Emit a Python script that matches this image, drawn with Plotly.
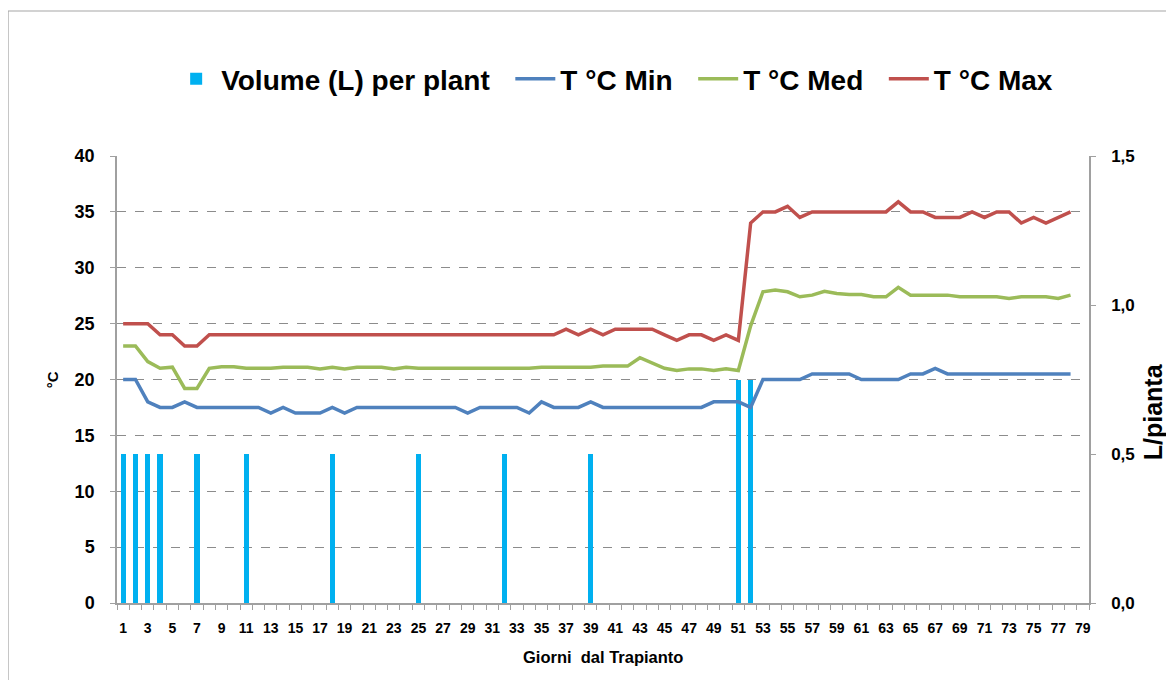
import plotly.graph_objects as go

days = list(range(1, 79))
t_min = [20, 20, 18, 17.5, 17.5, 18, 17.5, 17.5, 17.5, 17.5,
         17.5, 17.5, 17, 17.5, 17, 17, 17, 17.5, 17, 17.5,
         17.5, 17.5, 17.5, 17.5, 17.5, 17.5, 17.5, 17.5, 17, 17.5,
         17.5, 17.5, 17.5, 17, 18, 17.5, 17.5, 17.5, 18, 17.5,
         17.5, 17.5, 17.5, 17.5, 17.5, 17.5, 17.5, 17.5, 18, 18,
         18, 17.5, 20, 20, 20, 20, 20.5, 20.5, 20.5, 20.5,
         20, 20, 20, 20, 20.5, 20.5, 21, 20.5, 20.5, 20.5,
         20.5, 20.5, 20.5, 20.5, 20.5, 20.5, 20.5, 20.5]
t_med = [23, 23, 21.6, 21, 21.1, 19.2, 19.2, 21, 21.15, 21.15,
         21, 21, 21, 21.1, 21.1, 21.1, 20.95, 21.1, 20.95, 21.1,
         21.1, 21.1, 20.95, 21.1, 21, 21, 21, 21, 21, 21,
         21, 21, 21, 21, 21.1, 21.1, 21.1, 21.1, 21.1, 21.2,
         21.2, 21.2, 21.95, 21.45, 21, 20.8, 20.95, 20.95, 20.8, 20.95,
         20.8, 24.8, 27.85, 28, 27.85, 27.4, 27.55, 27.9, 27.7, 27.6,
         27.6, 27.4, 27.4, 28.25, 27.55, 27.55, 27.55, 27.55, 27.4, 27.4,
         27.4, 27.4, 27.25, 27.4, 27.4, 27.4, 27.25, 27.55]
t_max = [25, 25, 25, 24, 24, 23, 23, 24, 24, 24,
         24, 24, 24, 24, 24, 24, 24, 24, 24, 24,
         24, 24, 24, 24, 24, 24, 24, 24, 24, 24,
         24, 24, 24, 24, 24, 24, 24.5, 24, 24.5, 24,
         24.5, 24.5, 24.5, 24.5, 24, 23.5, 24, 24, 23.5, 24,
         23.5, 34, 35, 35, 35.5, 34.5, 35, 35, 35, 35,
         35, 35, 35, 35.9, 35, 35, 34.5, 34.5, 34.5, 35,
         34.5, 35, 35, 34, 34.5, 34, 34.5, 35]
irr_days = [1, 2, 3, 4, 7, 11, 18, 25, 32, 39, 51, 52]
irr_volume = [0.5, 0.5, 0.5, 0.5, 0.5, 0.5, 0.5, 0.5, 0.5, 0.5, 0.75, 0.75]

x_labels = list(range(1, 80, 2))
temp_ticks = list(range(0, 41, 5))
vol_ticks = [0, 0.5, 1.0, 1.5]
vol_tick_text = ["0,0", "0,5", "1,0", "1,5"]

FONT = "Liberation Sans"
GRID = "#8c8c8c"
AXIS = "#a0a0a0"
PAD = "\u00a0\u00a0"

fig = go.Figure()
fig.add_trace(go.Bar(x=irr_days, y=irr_volume, name="Volume (L) per plant" + PAD,
                     marker=dict(color="#00B0F0", line=dict(width=0)),
                     width=0.42, yaxis="y"))
fig.add_trace(go.Scatter(x=days, y=t_min, name="T °C Min" + PAD, mode="lines",
                         line=dict(color="#4F81BD", width=3.5), yaxis="y2"))
fig.add_trace(go.Scatter(x=days, y=t_med, name="T °C Med" + PAD, mode="lines",
                         line=dict(color="#9BBB59", width=3.5), yaxis="y2"))
fig.add_trace(go.Scatter(x=days, y=t_max, name="T °C Max", mode="lines",
                         line=dict(color="#C0504D", width=3.5), yaxis="y2"))

fig.update_layout(
    width=1174, height=680,
    margin=dict(l=109, r=93, t=148, b=85),
    paper_bgcolor="white", plot_bgcolor="white",
    font=dict(family=FONT, color="black"),
    showlegend=True,
    legend=dict(orientation="h", x=0.512, xanchor="center", y=1.172, yanchor="middle",
                font=dict(size=28, family=FONT, weight="bold"),
                itemwidth=40, tracegroupgap=0, bgcolor="rgba(0,0,0,0)"),
    bargap=0,
    xaxis=dict(range=[0.5, 79.5], tickmode="array", tickvals=x_labels,
               ticktext=[str(v) for v in x_labels], ticks="", ticklen=0,
               tickfont=dict(size=14, family=FONT, weight="bold"),
               showline=True, linecolor=AXIS, linewidth=1.5, showgrid=False, zeroline=False,
               minor=dict(ticks="outside", ticklen=5, tickcolor=AXIS, tickwidth=1.2,
                          tickvals=[v + 0.5 for v in range(0, 80)], showgrid=False),
               ticklabelstandoff=11),
    yaxis=dict(range=[0, 1.5], side="right", tickmode="array", tickvals=vol_ticks,
               ticktext=vol_tick_text, ticks="outside", ticklen=5, tickcolor=AXIS,
               tickfont=dict(size=17, family=FONT, weight="bold"),
               showline=True, linecolor=AXIS, linewidth=1.5, showgrid=False, zeroline=False,
               ticklabelstandoff=12),
    yaxis2=dict(range=[0, 40], side="left", overlaying="y", tickmode="array",
                tickvals=temp_ticks, ticks="outside", ticklen=5, tickcolor=AXIS,
                tickfont=dict(size=18, family=FONT, weight="bold"),
                showline=True, linecolor=AXIS, linewidth=1.5,
                showgrid=True, gridcolor=GRID, griddash="dash", gridwidth=1.2,
                zeroline=False, ticklabelstandoff=12),
    annotations=[
        dict(text="Giorni  dal Trapianto", x=0.5, y=-0.12, xref="paper", yref="paper",
             xanchor="center", yanchor="middle", showarrow=False,
             font=dict(size=16.5, family=FONT, weight="bold")),
        dict(text="°C", x=-0.066, y=0.5, xref="paper", yref="paper", textangle=-90,
             xanchor="center", yanchor="middle", showarrow=False,
             font=dict(size=15, family=FONT, weight="bold")),
        dict(text="L/pianta", x=1.066, y=0.427, xref="paper", yref="paper", textangle=-90,
             xanchor="center", yanchor="middle", showarrow=False,
             font=dict(size=25, family=FONT, weight="bold")),
    ],
    shapes=[dict(type="rect", xref="paper", yref="paper", x0=-0.1121, x1=1.3,
                 y0=-0.4, y1=1.3244, line=dict(color="#a6a6a6", width=1.2),
                 fillcolor="rgba(0,0,0,0)", layer="below")],
)

fig.write_html("out.html")
